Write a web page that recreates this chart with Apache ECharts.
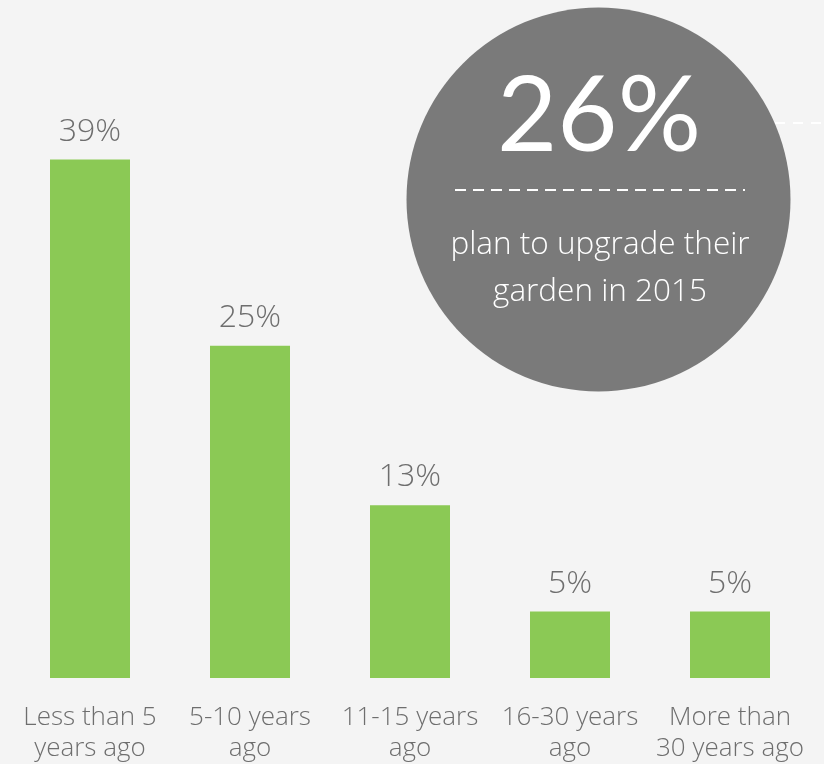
<!DOCTYPE html>
<html>
<head>
<meta charset="utf-8">
<script src="https://cdn.jsdelivr.net/npm/echarts@6/dist/echarts.min.js"></script>
<style>
  html, body { margin: 0; padding: 0; background: #f4f4f4; }
  #chart { width: 824px; height: 764px; }
</style>
</head>
<body>
<div id="chart"></div>
<script>
// When the garden was last upgraded (share of respondents, %)
const categories = ['Less than 5\nyears ago', '5-10 years\nago', '11-15 years\nago', '16-30 years\nago', 'More than\n30 years ago'];
const shares = [39, 25, 13, 5, 5];

// Headline callout
const headlineValue = 26;
const headlineText = ['plan to upgrade their', 'garden in 2015'];

const FONT = '"Open Sans", Lato, sans-serif';
const HEAD_FONT = 'Lato, sans-serif';
const GREEN = '#8bc955';
const TEXT_GREY = '#6e6e6e';
const CIRCLE_GREY = '#7a7a7a';

const chart = echarts.init(document.getElementById('chart'), null, { renderer: 'canvas' });

chart.setOption({
  backgroundColor: '#f4f4f4',
  animation: false,
  grid: { left: 10, right: 14, top: 0, bottom: 85, containLabel: false },
  xAxis: {
    type: 'category',
    data: categories,
    axisLine: { show: false },
    axisTick: { show: false },
    axisLabel: {
      interval: 0,
      margin: 24,
      color: TEXT_GREY,
      fontFamily: FONT,
      fontWeight: 300,
      fontSize: 26,
      lineHeight: 31
    }
  },
  yAxis: {
    type: 'value',
    min: 0,
    max: 51,
    show: false,
    splitLine: { show: false }
  },
  series: [{
    type: 'bar',
    data: shares,
    barWidth: 80,
    itemStyle: { color: GREEN },
    label: {
      show: true,
      position: 'top',
      distance: 12,
      formatter: p => p.value + '%',
      color: TEXT_GREY,
      fontFamily: FONT,
      fontWeight: 300,
      fontSize: 32
    }
  }],
  graphic: [
    {
      type: 'line',
      shape: { x1: 775, y1: 123, x2: 824, y2: 123 },
      style: { stroke: '#ffffff', lineWidth: 2, lineDash: [10, 8] },
      z: 1
    },
    {
      type: 'circle',
      shape: { cx: 598.5, cy: 199.5, r: 192 },
      style: { fill: CIRCLE_GREY },
      z: 2
    },
    {
      type: 'text',
      x: 599, y: 117,
      style: {
        text: headlineValue + '%',
        fill: '#ffffff',
        font: '400 104px ' + HEAD_FONT,
        align: 'center',
        verticalAlign: 'middle'
      },
      z: 3
    },
    {
      type: 'line',
      shape: { x1: 455, y1: 190, x2: 745, y2: 190 },
      style: { stroke: '#ffffff', lineWidth: 2, lineDash: [11, 7] },
      z: 3
    },
    {
      type: 'text',
      x: 600, y: 245,
      style: {
        text: headlineText[0],
        fill: '#ffffff',
        font: '300 31.5px ' + FONT,
        align: 'center',
        verticalAlign: 'middle'
      },
      z: 3
    },
    {
      type: 'text',
      x: 600, y: 292,
      style: {
        text: headlineText[1],
        fill: '#ffffff',
        font: '300 31.5px ' + FONT,
        align: 'center',
        verticalAlign: 'middle'
      },
      z: 3
    }
  ]
});
</script>
</body>
</html>
